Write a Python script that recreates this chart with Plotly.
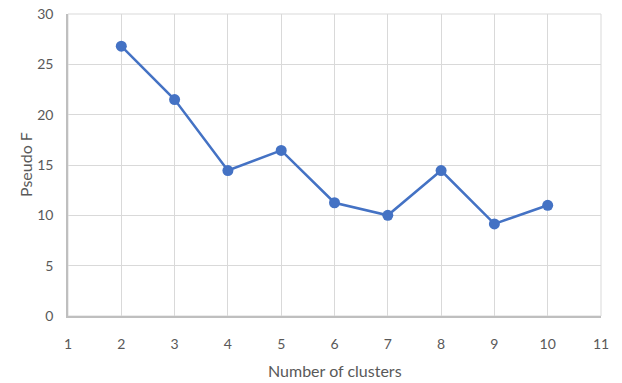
import plotly.graph_objects as go

clusters = [2, 3, 4, 5, 6, 7, 8, 9, 10]
pseudo_f = [26.8, 21.5, 14.45, 16.45, 11.25, 10.0, 14.45, 9.15, 11.0]

fig = go.Figure()
fig.add_trace(go.Scatter(
    x=clusters, y=pseudo_f, mode="lines+markers",
    line=dict(color="#4472C4", width=2.5),
    marker=dict(color="#4472C4", size=11),
    showlegend=False,
))

FAMILY = "Lato, 'Open Sans', sans-serif"
GREY = "#595959"
fig.update_layout(
    width=622, height=383,
    margin=dict(l=68, r=21, t=14, b=67),
    paper_bgcolor="white", plot_bgcolor="white",
    font=dict(family=FAMILY, size=14, color=GREY),
    xaxis=dict(
        range=[1, 11], tickmode="array", tickvals=list(range(1, 12)),
        showgrid=True, gridcolor="#D9D9D9", gridwidth=1,
        showline=True, linecolor="#BFBFBF", linewidth=1.5,
        mirror=False, zeroline=False, ticks="", ticklabelstandoff=14,
        automargin=False,
    ),
    yaxis=dict(
        range=[0, 30], tickmode="array", tickvals=[0, 5, 10, 15, 20, 25, 30],
        showgrid=True, gridcolor="#D9D9D9", gridwidth=1,
        showline=True, linecolor="#BFBFBF", linewidth=1.5,
        zeroline=False, ticks="", ticklabelstandoff=10,
        automargin=False,
    ),
)
fig.add_annotation(text="Number of clusters", xref="paper", yref="paper",
                   x=0.5, y=0, yshift=-54, xanchor="center", yanchor="middle",
                   showarrow=False, font=dict(family=FAMILY, size=16, color=GREY))
fig.add_annotation(text="Pseudo F", xref="paper", yref="paper",
                   x=0, y=0.5, xshift=-43, xanchor="center", yanchor="middle",
                   textangle=-90, showarrow=False,
                   font=dict(family=FAMILY, size=16, color=GREY))
fig.add_shape(type="rect", xref="paper", yref="paper", x0=0, x1=1, y0=0, y1=1,
              line=dict(color="#D9D9D9", width=1), layer="below")

fig.write_html("out.html")
